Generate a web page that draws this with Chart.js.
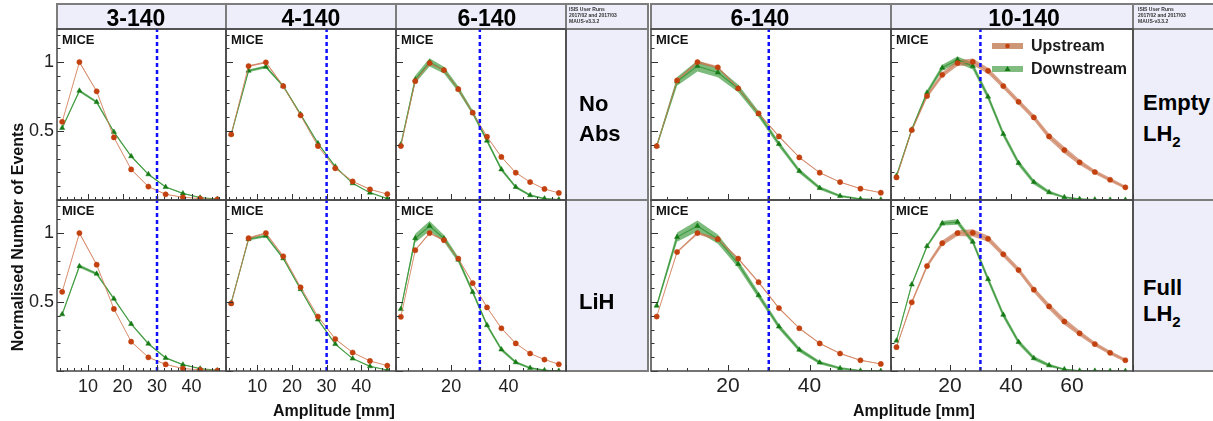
<!DOCTYPE html>
<html lang="en">
<head>
<meta charset="UTF-8">
<title>MICE amplitude distributions</title>
<script src="https://cdn.jsdelivr.net/npm/chart.js@4.4.0/dist/chart.umd.min.js"></script>
<style>
    body { margin: 0; background: #fff; font-family: 'Liberation Sans', Arial, sans-serif; }
    #page { position: relative; width: 1213px; height: 421px; overflow: hidden; }
    .cell { position: absolute; box-sizing: border-box; border: 2px solid #7d7d7d; background: #eeeefb; }
    .txt { position: absolute; white-space: nowrap; color: #000; }
    canvas { position: absolute; }
</style>
</head>
<body>
<div id="page"></div>
<script>
    // amplitude bin centres [mm]
    const amp50 = [2.5, 7.5, 12.5, 17.5, 22.5, 27.5, 32.5, 37.5, 42.5, 47.5];
    const amp60 = [2.5, 7.5, 12.5, 17.5, 22.5, 27.5, 32.5, 37.5, 42.5, 47.5, 52.5, 57.5];
    const amp80 = [2.5, 7.5, 12.5, 17.5, 22.5, 27.5, 32.5, 37.5, 42.5, 47.5, 52.5, 57.5, 62.5, 67.5, 72.5, 77.5];

    // No absorber
    const noAbs3Up     = [0.567, 1.000, 0.788, 0.454, 0.222, 0.097, 0.041, 0.020, 0.010, 0.005];
    const noAbs3UpErr  = [0.004, 0.006, 0.005, 0.004, 0.003, 0.002, 0.002, 0.001, 0.001, 0.001];
    const noAbs3Down   = [0.522, 0.792, 0.710, 0.493, 0.317, 0.186, 0.094, 0.048, 0.017, 0.007];
    const noAbs3DownErr= [0.006, 0.010, 0.009, 0.007, 0.005, 0.004, 0.003, 0.002, 0.001, 0.001];
    const noAbs4Up     = [0.476, 0.971, 0.998, 0.826, 0.614, 0.391, 0.230, 0.135, 0.077, 0.043];
    const noAbs4UpErr  = [0.004, 0.006, 0.006, 0.005, 0.004, 0.003, 0.003, 0.002, 0.002, 0.001];
    const noAbs4Down   = [0.476, 0.937, 0.966, 0.826, 0.621, 0.411, 0.242, 0.121, 0.053, 0.010];
    const noAbs4DownErr= [0.006, 0.010, 0.010, 0.008, 0.007, 0.005, 0.004, 0.003, 0.002, 0.001];
    const noAbs6Up     = [0.391, 0.862, 0.993, 0.942, 0.804, 0.633, 0.459, 0.312, 0.198, 0.130, 0.080, 0.051];
    const noAbs6UpErr  = [0.004, 0.006, 0.007, 0.006, 0.005, 0.005, 0.004, 0.003, 0.003, 0.002, 0.002, 0.001];
    const noAbs6Down   = [0.403, 0.874, 0.998, 0.942, 0.804, 0.633, 0.430, 0.222, 0.094, 0.034, 0.010, 0.003];
    const noAbs6DownErr= [0.012, 0.028, 0.030, 0.024, 0.020, 0.017, 0.015, 0.013, 0.010, 0.007, 0.005, 0.003];

    // LiH
    const lih3Up       = [0.574, 1.000, 0.771, 0.450, 0.213, 0.099, 0.048, 0.018, 0.009, 0.003];
    const lih3UpErr    = [0.004, 0.006, 0.005, 0.004, 0.003, 0.002, 0.002, 0.001, 0.001, 0.001];
    const lih3Down     = [0.411, 0.760, 0.705, 0.524, 0.341, 0.198, 0.095, 0.046, 0.017, 0.004];
    const lih3DownErr  = [0.006, 0.012, 0.010, 0.008, 0.006, 0.005, 0.004, 0.003, 0.002, 0.001];
    const lih4Up       = [0.490, 0.963, 1.000, 0.832, 0.607, 0.395, 0.232, 0.134, 0.073, 0.039];
    const lih4UpErr    = [0.004, 0.006, 0.006, 0.005, 0.004, 0.003, 0.003, 0.002, 0.002, 0.001];
    const lih4Down     = [0.495, 0.956, 0.980, 0.817, 0.593, 0.373, 0.195, 0.090, 0.034, 0.007];
    const lih4DownErr  = [0.006, 0.010, 0.010, 0.008, 0.007, 0.005, 0.004, 0.003, 0.002, 0.001];
    const lih6Up       = [0.393, 0.876, 1.000, 0.949, 0.815, 0.637, 0.461, 0.310, 0.200, 0.127, 0.083, 0.049];
    const lih6UpErr    = [0.004, 0.006, 0.007, 0.006, 0.005, 0.005, 0.004, 0.003, 0.003, 0.002, 0.002, 0.001];
    const lih6Down     = [0.449, 0.963, 1.051, 0.961, 0.807, 0.573, 0.332, 0.156, 0.063, 0.022, 0.005, 0.001];
    const lih6DownErr  = [0.014, 0.032, 0.036, 0.026, 0.020, 0.017, 0.015, 0.013, 0.010, 0.007, 0.005, 0.003];

    // Empty LH2
    const empty6Up     = [0.391, 0.867, 1.000, 0.962, 0.809, 0.628, 0.461, 0.309, 0.198, 0.130, 0.082, 0.053];
    const empty6UpErr  = [0.004, 0.008, 0.010, 0.009, 0.008, 0.007, 0.006, 0.005, 0.004, 0.003, 0.003, 0.002];
    const empty6Down   = [0.391, 0.860, 0.971, 0.925, 0.809, 0.623, 0.406, 0.210, 0.087, 0.029, 0.007, 0.002];
    const empty6DownErr= [0.014, 0.032, 0.040, 0.034, 0.028, 0.023, 0.019, 0.016, 0.012, 0.009, 0.006, 0.003];
    const empty10Up    = [0.164, 0.507, 0.754, 0.908, 0.993, 1.002, 0.937, 0.826, 0.712, 0.599, 0.461, 0.362, 0.273, 0.203, 0.147, 0.092];
    const empty10UpErr = [0.008, 0.014, 0.016, 0.019, 0.021, 0.024, 0.022, 0.020, 0.020, 0.020, 0.022, 0.024, 0.020, 0.015, 0.015, 0.012];
    const empty10Down  = [0.176, 0.510, 0.778, 0.959, 1.017, 0.971, 0.749, 0.478, 0.268, 0.130, 0.056, 0.020, 0.007, 0.003, 0.001, 0.001];
    const empty10DownErr=[0.008, 0.014, 0.018, 0.022, 0.024, 0.024, 0.024, 0.022, 0.020, 0.017, 0.012, 0.008, 0.005, 0.002, 0.001, 0.001];

    // Full LH2
    const full6Up      = [0.395, 0.863, 1.000, 0.956, 0.815, 0.644, 0.456, 0.310, 0.200, 0.127, 0.078, 0.051];
    const full6UpErr   = [0.004, 0.008, 0.010, 0.009, 0.008, 0.007, 0.006, 0.005, 0.004, 0.003, 0.003, 0.002];
    const full6Down    = [0.473, 0.971, 1.051, 0.956, 0.776, 0.549, 0.322, 0.154, 0.061, 0.020, 0.002, 0.000];
    const full6DownErr = [0.014, 0.034, 0.040, 0.034, 0.028, 0.023, 0.019, 0.016, 0.012, 0.009, 0.006, 0.003];
    const full10Up     = [0.173, 0.498, 0.761, 0.927, 1.000, 1.002, 0.959, 0.846, 0.732, 0.590, 0.468, 0.359, 0.273, 0.195, 0.132, 0.078];
    const full10UpErr  = [0.008, 0.014, 0.016, 0.019, 0.021, 0.026, 0.022, 0.020, 0.020, 0.020, 0.022, 0.024, 0.020, 0.015, 0.015, 0.012];
    const full10Down   = [0.220, 0.627, 0.905, 1.071, 1.080, 0.937, 0.666, 0.407, 0.210, 0.093, 0.041, 0.012, 0.002, 0.001, 0.000, 0.000];
    const full10DownErr= [0.006, 0.010, 0.012, 0.016, 0.020, 0.020, 0.022, 0.020, 0.018, 0.015, 0.012, 0.007, 0.004, 0.002, 0.001, 0.001];

    const cutAmplitude = 30;
    const yTickLabels = [0.5, 1];
    const xLabels50 = [10, 20, 30, 40];
    const xLabels60 = [20, 40];
    const xLabels80 = [20, 40, 60];
    const seriesNames = ['Upstream', 'Downstream'];
    const columnTitles = ['3-140', '4-140', '6-140', '6-140', '10-140'];
    const rowLabelsLeft = [['No', 'Abs'], ['LiH']];
    const noteLines = ['ISIS User Runs', '2017/02 and 2017/03', 'MAUS-v3.3.2'];

    // colours
    const UP_POINT = '#c2410f', UP_LINE = 'rgba(214,125,90,0.75)', UP_BAND = 'rgba(190,105,65,0.62)';
    const DN_POINT = '#167a16', DN_LINE = 'rgba(55,150,55,0.85)', DN_BAND = 'rgba(45,145,45,0.62)';
    const FONT = "'Liberation Sans', Arial, sans-serif";
    Chart.defaults.font.family = FONT;

    const page = document.getElementById('page');
    const ROW_TOP = [29, 200], ROW_H = 171, Y_MAX = 1.24;

    const panels = [
        { left: 57,  width: 169, row: 0, xMin: 1,   xMax: 50, minor: 2, major: 10, labels: xLabels50, amp: amp50, up: noAbs3Up, upErr: noAbs3UpErr, dn: noAbs3Down, dnErr: noAbs3DownErr, yLab: true },
        { left: 226, width: 170, row: 0, xMin: 1,   xMax: 50, minor: 2, major: 10, labels: xLabels50, amp: amp50, up: noAbs4Up, upErr: noAbs4UpErr, dn: noAbs4Down, dnErr: noAbs4DownErr },
        { left: 396, width: 170, row: 0, xMin: 0.8, xMax: 60, minor: 5, major: 20, labels: xLabels60, amp: amp60, up: noAbs6Up, upErr: noAbs6UpErr, dn: noAbs6Down, dnErr: noAbs6DownErr },
        { left: 57,  width: 169, row: 1, xMin: 1,   xMax: 50, minor: 2, major: 10, labels: xLabels50, amp: amp50, up: lih3Up, upErr: lih3UpErr, dn: lih3Down, dnErr: lih3DownErr, yLab: true, fs: 18 },
        { left: 226, width: 170, row: 1, xMin: 1,   xMax: 50, minor: 2, major: 10, labels: xLabels50, amp: amp50, up: lih4Up, upErr: lih4UpErr, dn: lih4Down, dnErr: lih4DownErr, fs: 18 },
        { left: 396, width: 170, row: 1, xMin: 0.8, xMax: 60, minor: 5, major: 20, labels: xLabels60, amp: amp60, up: lih6Up, upErr: lih6UpErr, dn: lih6Down, dnErr: lih6DownErr, fs: 18 },
        { left: 651, width: 240, row: 0, xMin: 1.1, xMax: 60, minor: 5, major: 20, labels: xLabels60, amp: amp60, up: empty6Up, upErr: empty6UpErr, dn: empty6Down, dnErr: empty6DownErr },
        { left: 891, width: 242, row: 0, xMin: 0.7, xMax: 80, minor: 5, major: 20, labels: xLabels80, amp: amp80, up: empty10Up, upErr: empty10UpErr, dn: empty10Down, dnErr: empty10DownErr, legend: true },
        { left: 651, width: 240, row: 1, xMin: 1.1, xMax: 60, minor: 5, major: 20, labels: xLabels60, amp: amp60, up: full6Up, upErr: full6UpErr, dn: full6Down, dnErr: full6DownErr, fs: 21 },
        { left: 891, width: 242, row: 1, xMin: 0.7, xMax: 80, minor: 5, major: 20, labels: xLabels80, amp: amp80, up: full10Up, upErr: full10UpErr, dn: full10Down, dnErr: full10DownErr, fs: 21 }
    ];

    function stepTicks(min, max, step) {
        const out = [];
        for (let v = Math.ceil(min / step - 1e-9) * step; v <= max + 1e-9; v += step) out.push({ value: +v.toFixed(6) });
        return out;
    }
    const onStep = (v, step) => Math.abs(v / step - Math.round(v / step)) < 1e-6;

    function band(xs, ys, errs, color) {
        const hi = xs.map((x, i) => ({ x, y: ys[i] + errs[i] }));
        const lo = xs.map((x, i) => ({ x, y: Math.max(0, ys[i] - errs[i]) }));
        return [
            { data: hi, borderColor: 'rgba(0,0,0,0)', borderWidth: 1, pointRadius: 0, fill: false, order: 3 },
            { data: lo, borderColor: 'rgba(0,0,0,0)', borderWidth: 1, pointRadius: 0, fill: '-1', backgroundColor: color, order: 3 }
        ];
    }

    // frame, inward ROOT-style ticks, MICE tag, legend
    function makeDecor(p) {
        return {
            id: 'decor',
            afterDraw(chart) {
                const { ctx, chartArea: a, scales: { x, y } } = chart;
                ctx.save();
                ctx.strokeStyle = '#333';
                ctx.lineWidth = 1;
                ctx.beginPath();
                x.ticks.forEach(t => {
                    const px = Math.round(x.getPixelForValue(t.value)) + 0.5;
                    const len = onStep(t.value, p.major) ? 6 : 3;
                    ctx.moveTo(px, a.bottom); ctx.lineTo(px, a.bottom - len);
                });
                y.ticks.forEach(t => {
                    const py = Math.round(y.getPixelForValue(t.value)) + 0.5;
                    const len = onStep(t.value, 0.5) ? 7 : 3.5;
                    ctx.moveTo(a.left, py); ctx.lineTo(a.left + len, py);
                });
                ctx.stroke();
                ctx.lineWidth = 1.5;
                ctx.strokeStyle = '#454545';
                ctx.strokeRect(a.left, a.top, a.right - a.left, a.bottom - a.top);

                ctx.fillStyle = '#111';
                ctx.font = 'bold 13px ' + FONT;
                ctx.fillText('MICE', a.left + 5, a.top + 15);

                if (p.legend) {
                    const lx = a.left + 101, rows = [
                        { yy: a.top + 17, band: '#cd9676', pt: UP_POINT, tri: false, name: seriesNames[0], base: a.top + 22 },
                        { yy: a.top + 40, band: '#80bc80', pt: DN_POINT, tri: true, name: seriesNames[1], base: a.top + 45 }
                    ];
                    rows.forEach(r => {
                        ctx.fillStyle = r.band;
                        ctx.fillRect(lx, r.yy - 3, 31, 6);
                        ctx.fillStyle = r.pt;
                        ctx.beginPath();
                        if (r.tri) {
                            ctx.moveTo(lx + 15.5, r.yy - 3); ctx.lineTo(lx + 18.5, r.yy + 2); ctx.lineTo(lx + 12.5, r.yy + 2);
                            ctx.closePath();
                        } else {
                            ctx.arc(lx + 15.5, r.yy, 2.3, 0, Math.PI * 2);
                        }
                        ctx.fill();
                        ctx.fillStyle = '#1a1a1a';
                        ctx.font = 'bold 16px ' + FONT;
                        ctx.fillText(r.name, lx + 39, r.base);
                    });
                }
                ctx.restore();
            }
        };
    }

    function addPanel(p) {
        const pad = 3;
        const padL = p.yLab ? 40 : pad;
        const padB = p.row === 1 ? 32 : pad;
        const c = document.createElement('canvas');
        c.width = p.width + padL + pad;
        c.height = ROW_H + pad + padB;
        c.style.left = (p.left - padL) + 'px';
        c.style.top = (ROW_TOP[p.row] - pad) + 'px';
        page.appendChild(c);

        const pts = (ys) => p.amp.map((x, i) => ({ x, y: ys[i] }));
        const datasets = [
            { data: [{ x: cutAmplitude, y: 0 }, { x: cutAmplitude, y: Y_MAX }], borderColor: '#1010ff', borderWidth: 2.5, borderDash: [4, 3], pointRadius: 0, order: -1 },
            { data: pts(p.up), borderColor: UP_LINE, borderWidth: 1, pointStyle: 'circle', pointRadius: 2.6, pointBackgroundColor: UP_POINT, pointBorderColor: UP_POINT, pointBorderWidth: 0.5, order: 0 },
            { data: pts(p.dn), borderColor: DN_LINE, borderWidth: 1.2, pointStyle: 'triangle', pointRadius: 3, pointBackgroundColor: DN_POINT, pointBorderColor: DN_POINT, pointBorderWidth: 0.5, order: 1 },
            ...band(p.amp, p.up, p.upErr, UP_BAND),
            ...band(p.amp, p.dn, p.dnErr, DN_BAND)
        ];

        new Chart(c, {
            type: 'line',
            data: { datasets },
            options: {
                responsive: false,
                animation: false,
                devicePixelRatio: 1,
                events: [],
                layout: { padding: { top: pad, right: pad, left: 0, bottom: 0 }, autoPadding: false },
                elements: { line: { tension: 0 } },
                plugins: { legend: { display: false }, tooltip: { enabled: false } },
                scales: {
                    x: {
                        type: 'linear', min: p.xMin, max: p.xMax, bounds: 'data',
                        grid: { display: false, drawTicks: false }, border: { display: false },
                        afterBuildTicks: s => { s.ticks = stepTicks(p.xMin, p.xMax, p.minor); },
                        afterFit: s => { s.height = padB; s.paddingLeft = 0; s.paddingRight = 0; },
                        ticks: {
                            display: p.row === 1, autoSkip: false, maxRotation: 0, minRotation: 0,
                            padding: p.fs === 21 ? 3 : 5, color: '#222', font: { size: p.fs || 18 },
                            callback: v => p.labels.includes(v) ? String(v) : ''
                        }
                    },
                    y: {
                        type: 'linear', min: 0, max: Y_MAX, bounds: 'data',
                        grid: { display: false, drawTicks: false }, border: { display: false },
                        afterBuildTicks: s => { s.ticks = stepTicks(0, Y_MAX, 0.1); },
                        afterFit: s => { s.width = padL; s.paddingTop = 0; s.paddingBottom = 0; },
                        ticks: {
                            display: !!p.yLab, autoSkip: false, padding: 3, color: '#222', font: { size: 18 },
                            callback: v => yTickLabels.includes(v) ? String(v) : ''
                        }
                    }
                }
            },
            plugins: [makeDecor(p)]
        });
    }

    // lavender boxes (header cells and row-label cells)
    function cell(x0, y0, x1, y1) {
        const d = document.createElement('div');
        d.className = 'cell';
        d.style.left = (x0 - 1) + 'px'; d.style.top = (y0 - 1) + 'px';
        d.style.width = (x1 - x0 + 2) + 'px'; d.style.height = (y1 - y0 + 2) + 'px';
        page.appendChild(d);
    }
    // text placed by baseline (line-height equal to font size)
    function text(html, x, baseline, size, weight, align, color) {
        const d = document.createElement('div');
        d.className = 'txt';
        d.innerHTML = html;
        d.style.fontSize = size + 'px';
        d.style.lineHeight = size + 'px';
        d.style.fontWeight = weight || 'normal';
        if (color) d.style.color = color;
        d.style.top = (baseline - 0.8465 * size) + 'px';
        if (align === 'center') { d.style.left = (x - 150) + 'px'; d.style.width = '300px'; d.style.textAlign = 'center'; }
        else d.style.left = x + 'px';
        page.appendChild(d);
    }

    [[57, 226], [226, 396], [396, 566], [566, 648], [651, 891], [891, 1133], [1133, 1214]].forEach(c => cell(c[0], 4, c[1], 29));
    [[566, 648], [1133, 1214]].forEach(c => { cell(c[0], 29, c[1], 200); cell(c[0], 200, c[1], 371); });

    panels.forEach(addPanel);

    const titleX = [136, 311, 487, 760, 1024];
    columnTitles.forEach((t, i) => text(t, titleX[i], 26, 23, 'bold', 'center'));
    [569, 1138].forEach(x => noteLines.forEach((l, i) => text(l, x, 11.5 + i * 6, 5, 'bold', 'left', '#333')));

    text(rowLabelsLeft[0][0], 579, 112, 22, 'bold');
    text(rowLabelsLeft[0][1], 579, 142, 22, 'bold');
    text(rowLabelsLeft[1][0], 579, 310, 22, 'bold');
    const sub2 = 'LH<span style="font-size:15px;position:relative;top:6px">2</span>';
    text('Empty', 1143, 111, 22, 'bold');
    text(sub2, 1143, 142, 22, 'bold');
    text('Full', 1143, 296, 22, 'bold');
    text(sub2, 1143, 322, 22, 'bold');

    text('Amplitude [mm]', 273, 417, 16, 'bold', 'left', '#111');
    text('Amplitude [mm]', 853, 417, 16, 'bold', 'left', '#111');

    const yt = document.createElement('div');
    yt.className = 'txt';
    yt.textContent = 'Normalised Number of Events';
    Object.assign(yt.style, { left: (18 - 150) + 'px', top: (237 - 10) + 'px', width: '300px', height: '20px', lineHeight: '20px',
        textAlign: 'center', fontSize: '16px', fontWeight: 'bold', color: '#111', transform: 'rotate(-90deg)' });
    page.appendChild(yt);
</script>
</body>
</html>
